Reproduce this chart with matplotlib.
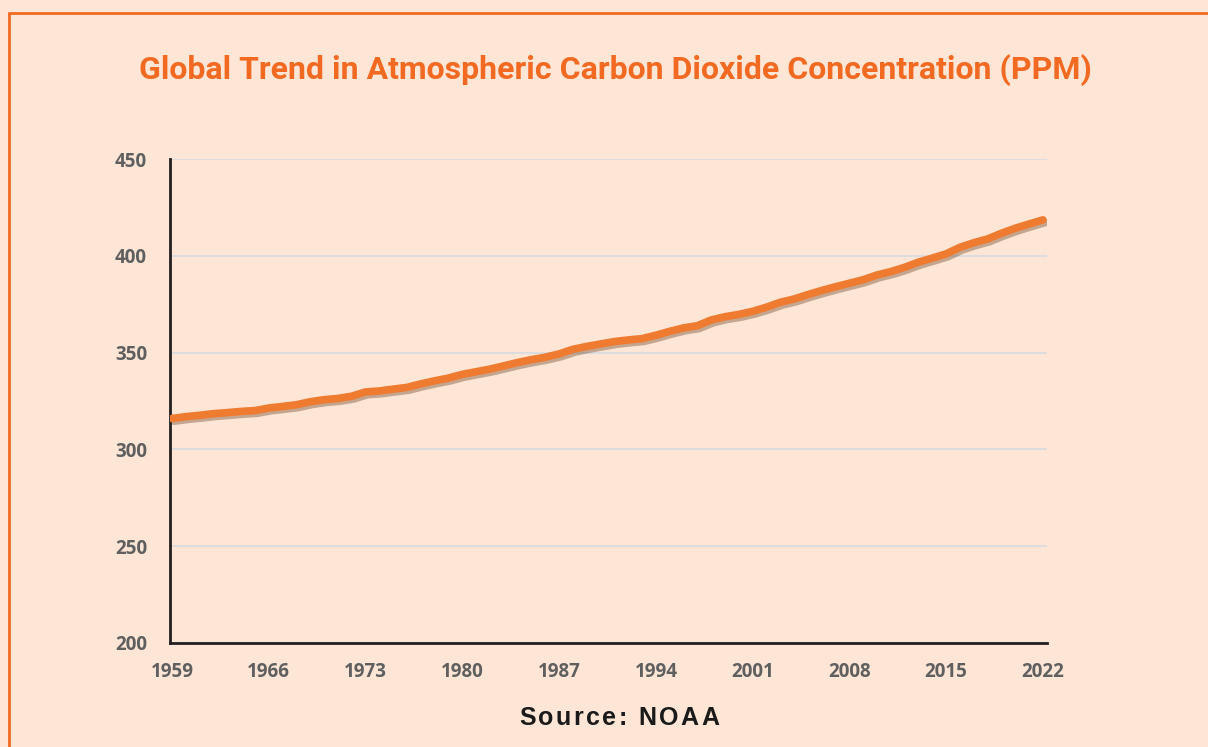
import matplotlib
matplotlib.use("Agg")
import matplotlib.pyplot as plt
import matplotlib.patheffects as pe
from matplotlib.patches import Rectangle

# annual mean CO2 (ppm)
years = list(range(1959, 2023))
co2 = [315.98, 316.91, 317.64, 318.45, 318.99, 319.62, 320.04, 321.37, 322.18, 323.05,
       324.62, 325.68, 326.32, 327.46, 329.68, 330.19, 331.13, 332.03, 333.84, 335.41,
       336.84, 338.76, 340.12, 341.48, 343.15, 344.87, 346.35, 347.61, 349.31, 351.69,
       353.20, 354.45, 355.70, 356.54, 357.21, 358.96, 360.97, 362.74, 363.88, 366.84,
       368.54, 369.71, 371.32, 373.45, 375.98, 377.70, 379.98, 382.09, 384.02, 385.83,
       387.64, 390.10, 391.85, 394.06, 396.74, 398.81, 401.01, 404.41, 406.76, 408.72,
       411.66, 414.24, 416.45, 418.56]
xticks = [1959, 1966, 1973, 1980, 1987, 1994, 2001, 2008, 2015, 2022]
yticks = [200, 250, 300, 350, 400, 450]

title = "Global Trend in Atmospheric Carbon Dioxide Concentration (PPM)"
source = "Source: NOAA"

bg = "#FDE6D6"
orange = "#F26A21"
line_col = "#EE7B30"
tick_col = "#5F5F5F"

fig = plt.figure(figsize=(12.08, 7.47), dpi=100, facecolor=bg)

# outer orange frame (runs off right and bottom edges)
fig.patches.append(Rectangle((9 / 1208, -0.1), 1.2, 1 - 13 / 747 + 0.1,
                             transform=fig.transFigure, fill=False,
                             edgecolor=orange, linewidth=2))

ax = fig.add_axes([170 / 1208, 1 - 643 / 747, 877 / 1208, (643 - 159) / 747])
ax.set_facecolor(bg)

ax.plot(years, co2, color=line_col, linewidth=5.5, solid_capstyle="round",
        path_effects=[pe.SimpleLineShadow(offset=(1.5, -2), alpha=0.35, shadow_color="#5a3010"),
                      pe.Normal()], zorder=3)

ax.set_xlim(1958.86, 2022.29)
ax.set_ylim(200, 450)
ax.set_yticks(yticks)
ax.set_xticks(xticks)
ax.grid(axis="y", color="#D6DBE2", linewidth=1.2, zorder=0)
ax.tick_params(length=0, labelsize=13.5, labelcolor=tick_col, pad=14)
ax.tick_params(axis="y", pad=16.5)
for lab in ax.get_xticklabels() + ax.get_yticklabels():
    lab.set_fontweight("bold")
    lab.set_fontfamily("Open Sans")

for s in ["top", "right"]:
    ax.spines[s].set_visible(False)
for s in ["left", "bottom"]:
    ax.spines[s].set_color("#231F20")
    ax.spines[s].set_linewidth(2)

fig.text(615 / 1208, 1 - 70 / 747, title, ha="center", va="center",
         fontsize=23, fontweight="bold", color=orange, family="Roboto")

# letter-spaced source line
renderer = fig.canvas.get_renderer()
spacing = 2.5
fs = 18
widths = []
for ch in source:
    t = fig.text(0, 0, ch if ch != " " else "n", fontsize=fs, fontweight="bold",
                 family="Liberation Sans")
    widths.append(t.get_window_extent(renderer).width if ch != " " else 6)
    t.remove()
total = sum(widths) + spacing * (len(source) - 1)
x = 619 - total / 2
for ch, w in zip(source, widths):
    fig.text(x / 1208, 1 - 718 / 747, ch, ha="left", va="center", fontsize=fs,
             fontweight="bold", family="Liberation Sans", color="#1A1A1A")
    x += w + spacing

fig.savefig("out.png", dpi=100, facecolor=bg)
